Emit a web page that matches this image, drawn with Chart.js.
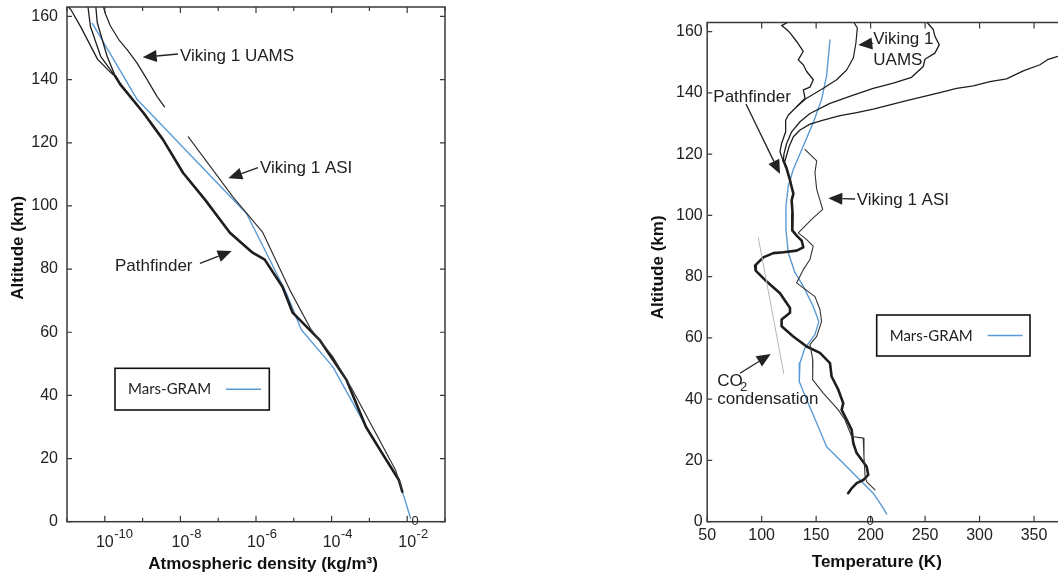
<!DOCTYPE html>
<html lang="en">
  <head>
    <meta charset="UTF-8" />
    <title>Mars atmosphere profiles</title>
    <script src="https://cdn.jsdelivr.net/npm/chart.js"></script>
    <style>
      html, body { margin: 0; padding: 0; background: #fff; overflow: hidden; }
      body { width: 1058px; height: 577px; position: relative; }
      .painel { position: absolute; top: 0; }
      #painelDensidade { left: 0; }
      #painelTemperatura { left: 640px; }
    </style>
  </head>
  <body>
    <div class="painel" id="painelDensidade"><canvas id="densidade" width="460" height="577"></canvas></div>
    <div class="painel" id="painelTemperatura"><canvas id="temperatura" width="440" height="577"></canvas></div>

<script>
  // ---------- left panel: density (kg/m3) vs altitude (km) ----------
  var uamsDens = [8.5e-11, 1.05e-10, 1.41e-10, 2.34e-10, 3.89e-10, 7.08e-10, 1.32e-9, 2.40e-9, 3.80e-9];
  var uamsAlt = [164.4, 160.7, 157.0, 152.7, 149.5, 145.3, 140.0, 134.7, 131.4];

  var asiDens = [1.62e-8, 3.31e-8, 2.45e-7, 1.51e-6, 7.76e-6, 2.88e-5, 1.07e-4, 3.55e-4, 1.48e-3, 4.90e-3, 7.24e-3];
  var asiAlt = [121.9, 116.9, 102.9, 91.6, 73.5, 60.8, 52.3, 41.8, 28.0, 16.4, 10.1];

  var pf1Dens = [1.0e-11, 1.26e-11, 2.29e-11, 6.46e-11, 1.41e-10, 1.91e-10];
  var pf1Alt = [163.5, 162.2, 156.8, 146.4, 142.3, 141.0];
  var pf2Dens = [3.55e-11, 4.17e-11, 7.76e-11, 1.58e-10, 1.91e-10];
  var pf2Alt = [163.5, 156.8, 147.4, 142.3, 141.0];
  var pf3Dens = [5.75e-11, 6.31e-11, 1.15e-10, 1.91e-10];
  var pf3Alt = [163.5, 158.1, 147.4, 141.0];

  var pfDens = [1.91e-10, 2.57e-10, 1.05e-9, 3.47e-9, 1.17e-8, 4.47e-8, 2.04e-7, 8.13e-7, 1.70e-6,
                5.01e-6, 9.33e-6, 4.79e-5, 2.45e-4, 8.13e-4, 2.14e-3, 6.03e-3, 7.41e-3];
  var pfAlt = [141.0, 138.5, 129.5, 121.0, 110.5, 102.0, 91.5, 85.2, 83.0,
               74.4, 66.2, 57.6, 45.0, 30.0, 21.8, 13.2, 9.5];

  var gramDens = [4.68e-11, 7.08e-10, 5.62e-7, 6.31e-6, 1.58e-5, 1.07e-4, 2.95e-4, 8.13e-4, 6.03e-3, 1.23e-2];
  var gramAlt = [157.8, 133.8, 97.6, 72.5, 60.8, 49.1, 39.6, 30.1, 13.1, 1.1];

  var decadas = [-11, -10, -9, -8, -7, -6, -5, -4, -3, -2, -1];
  var expoentesRotulo = [-10, -8, -6, -4, -2];

  // ---------- right panel: temperature (K) vs altitude (km) ----------
  var pfATemp = [124.5, 118.3, 122.9, 126.0, 132.1, 138.2, 133.6, 138.2, 141.3, 147.4, 144.3, 138.2, 139.8,
                 132.1, 124.5, 122.0, 122.0, 118.3, 116.8, 119.3, 119.9];
  var pfAAlt = [163.2, 162.0, 160.7, 159.6, 156.8, 153.6, 150.8, 149.2, 147.0, 144.3, 141.9, 141.0, 138.3,
                135.5, 132.8, 131.1, 127.3, 123.5, 120.8, 118.3, 118.0];

  var pfCTemp = [251.0, 252.9, 257.5, 259.0, 263.0, 259.0, 249.8, 248.3, 237.6, 220.8, 202.4, 184.1, 162.7,
                 144.3, 135.2, 127.5, 122.9, 120.5, 119.9];
  var pfCAlt = [163.3, 162.6, 160.7, 158.5, 155.7, 153.0, 151.0, 148.6, 145.1, 143.2, 141.5, 139.3, 136.6,
                133.3, 130.6, 127.3, 123.5, 120.2, 118.0];

  var pfDTemp = [385.0, 371.9, 363.0, 355.4, 340.1, 324.8, 309.5, 294.2, 278.9, 263.6, 248.3, 233.0, 217.7,
                 202.4, 187.2, 171.9, 156.6, 144.3, 135.2, 129.1, 125.1, 122.9, 121.4, 119.9];
  var pfDAlt = [153.5, 151.9, 151.0, 149.2, 147.2, 144.6, 143.7, 142.3, 141.5, 140.1, 138.8, 137.5, 136.1,
                134.7, 133.6, 132.6, 131.1, 129.8, 127.9, 125.7, 122.4, 119.7, 117.8, 118.0];

  var pfTemp = [119.9, 122.9, 126.0, 127.5, 129.1, 127.5, 128.4, 128.1, 132.1, 136.7, 138.2, 132.1, 119.9,
                110.7, 101.5, 93.9, 94.5, 104.6, 116.8, 126.0, 126.0, 118.3, 118.3, 129.0, 141.3, 153.5,
                162.7, 164.2, 170.3, 174.9, 173.4, 178.0, 182.6, 184.1, 187.2, 196.3, 197.8, 193.2, 187.2,
                182.6, 179.4];
  var pfTAlt = [118.0, 115.3, 111.5, 109.3, 107.1, 104.9, 100.5, 95.1, 93.4, 91.8, 89.6, 88.5, 88.0,
                87.7, 86.3, 83.6, 82.0, 78.4, 74.6, 69.8, 68.2, 66.0, 63.8, 60.5, 57.2, 55.1,
                51.8, 47.4, 43.1, 38.7, 36.5, 33.3, 30.0, 25.6, 22.4, 18.0, 15.3, 13.6, 12.6,
                10.9, 9.3];

  var uamsTemp = [183.5, 187.8, 186.5, 184.1, 178.0, 168.8, 156.6, 141.3, 132.1];
  var uamsTAlt = [163.7, 161.2, 156.3, 151.4, 147.5, 144.3, 141.5, 138.3, 135.5];

  var asiTemp = [139.7, 150.5, 148.9, 150.5, 156.0, 147.3, 133.6, 141.3, 147.3, 144.3, 138.2, 132.1, 148.9,
                 153.5, 155.0, 150.5, 144.3, 147.0, 146.8, 156.5, 170.3, 176.4, 182.6, 193.2, 193.9, 194.8,
                 196.3, 204.0];
  var asiTAlt = [121.6, 117.8, 114.0, 108.5, 102.0, 99.2, 94.3, 92.1, 90.0, 85.6, 82.3, 78.0, 73.5,
                 69.3, 65.4, 60.5, 57.8, 52.8, 46.4, 42.0, 36.5, 33.3, 27.8, 27.3, 21.3, 15.3,
                 13.1, 10.4];

  var gramTemp = [162.7, 159.6, 155.0, 147.3, 138.2, 129.0, 124.4, 122.3, 122.3, 124.4, 130.6, 138.2, 147.3,
                  152.5, 148.9, 139.7, 135.1, 134.5, 141.3, 150.5, 159.6, 174.9, 190.2, 202.4, 211.6, 214.7];
  var gramTAlt = [157.3, 145.6, 137.9, 130.3, 122.7, 115.0, 109.6, 103.0, 95.4, 87.8, 81.3, 76.9, 70.3,
                  65.4, 61.1, 56.7, 51.8, 45.8, 39.8, 32.2, 24.5, 19.1, 13.6, 9.3, 4.4, 2.5];

  var co2Temp = [96.9, 120.3];
  var co2Alt = [92.7, 48.3];

  var AZUL = '#5b9bd5';
  var PRETO = '#1e1e1e';
  var FONTE = '"Liberation Sans", Arial, sans-serif';

  Chart.defaults.font.family = FONTE;
  Chart.defaults.color = '#222';

  function serie(xs, ys, cor, largura) {
    return {
      data: xs.map(function (v, i) { return { x: v, y: ys[i] }; }),
      borderColor: cor,
      borderWidth: largura,
      pointRadius: 0,
      tension: 0,
      fill: false,
      borderJoinStyle: 'round',
      borderCapStyle: 'round'
    };
  }

  // keep only round ticks (no extra one at the max)
  function soPassos(passo) {
    return function (s) {
      s.ticks = s.ticks.filter(function (t) { return Math.abs(t.value % passo) < 1e-9; });
    };
  }

  function seta(ctx, s) {
    var x1 = s[0], y1 = s[1], x2 = s[2], y2 = s[3];
    var ang = Math.atan2(y2 - y1, x2 - x1);
    var L = 14, W = 6;
    var bx = x2 - L * Math.cos(ang), by = y2 - L * Math.sin(ang);
    ctx.lineWidth = 1.3;
    ctx.beginPath();
    ctx.moveTo(x1, y1);
    ctx.lineTo(bx, by);
    ctx.stroke();
    ctx.beginPath();
    ctx.moveTo(x2, y2);
    ctx.lineTo(bx + W * Math.sin(ang), by - W * Math.cos(ang));
    ctx.lineTo(bx - W * Math.sin(ang), by + W * Math.cos(ang));
    ctx.closePath();
    ctx.fill();
  }

  // frame, inward ticks, log labels, notes and the legend box
  var moldura = {
    id: 'moldura',
    afterDraw: function (chart, args, o) {
      var ctx = chart.ctx, a = chart.chartArea;
      var sx = chart.scales.x, sy = chart.scales.y;
      ctx.save();
      ctx.strokeStyle = '#3a3a3a';
      ctx.lineWidth = 1.5;
      ctx.strokeRect(a.left, a.top, a.right - a.left, a.bottom - a.top);

      ctx.lineWidth = 1.2;
      ctx.beginPath();
      sy.ticks.forEach(function (t) {
        var p = sy.getPixelForValue(t.value);
        ctx.moveTo(a.left, p); ctx.lineTo(a.left + 5, p);
        ctx.moveTo(a.right, p); ctx.lineTo(a.right - 5, p);
      });
      if (o.decadas) {
        o.decadas.forEach(function (k) {
          var p = sx.getPixelForValue(Math.pow(10, k));
          var len = k % 2 === 0 ? 6 : 4;
          ctx.moveTo(p, a.bottom); ctx.lineTo(p, a.bottom - len);
          ctx.moveTo(p, a.top); ctx.lineTo(p, a.top + len);
        });
      } else {
        sx.ticks.forEach(function (t) {
          var p = sx.getPixelForValue(t.value);
          ctx.moveTo(p, a.bottom); ctx.lineTo(p, a.bottom - 6);
          ctx.moveTo(p, a.top); ctx.lineTo(p, a.top + 6);
        });
      }
      ctx.stroke();

      ctx.fillStyle = '#222';
      ctx.strokeStyle = '#222';
      if (o.expoentes) {
        o.expoentes.forEach(function (k) {
          var p = sx.getPixelForValue(Math.pow(10, k));
          ctx.font = '16px ' + FONTE;
          ctx.textAlign = 'center';
          ctx.textBaseline = 'alphabetic';
          ctx.fillText('10', p, a.bottom + 25.3);
          var w = ctx.measureText('10').width;
          ctx.font = '13px ' + FONTE;
          ctx.textAlign = 'left';
          ctx.fillText('-' + Math.abs(k), p + w / 2 + 0.5, a.bottom + 15.8);
        });
      }

      ctx.textAlign = 'left';
      ctx.textBaseline = 'alphabetic';
      (o.textos || []).forEach(function (t) {
        ctx.font = (t.size || 17) + 'px ' + FONTE;
        ctx.textAlign = t.align || 'left';
        ctx.fillText(t.t, t.x, t.y);
      });
      (o.setas || []).forEach(function (s) { seta(ctx, s); });

      if (o.legenda) {
        var L = o.legenda;
        ctx.fillStyle = '#fff';
        ctx.fillRect(L.x, L.y, L.w, L.h);
        ctx.strokeStyle = '#111';
        ctx.lineWidth = 1.6;
        ctx.strokeRect(L.x, L.y, L.w, L.h);
        ctx.fillStyle = '#222';
        ctx.font = '15px Lato, "Open Sans", sans-serif';
        ctx.textAlign = 'left';
        ctx.textBaseline = 'middle';
        ctx.fillText('Mars-GRAM', L.x + 13, L.y + L.h / 2 + 0.5);
        ctx.strokeStyle = AZUL;
        ctx.lineWidth = 1.5;
        ctx.beginPath();
        ctx.moveTo(L.x + 111, L.y + L.h / 2);
        ctx.lineTo(L.x + 146, L.y + L.h / 2);
        ctx.stroke();
      }
      ctx.restore();
    }
  };

  function eixoY(largura, pad, titulo) {
    return {
      type: 'linear', min: 0, max: 163, bounds: 'data',
      grid: { display: false, drawTicks: false },
      border: { display: false },
      ticks: { stepSize: 20, includeBounds: false, padding: pad, font: { size: 16 }, color: '#222' },
      afterBuildTicks: soPassos(20),
      title: { display: true, text: titulo, font: { size: 17, weight: 'bold' }, color: '#111', padding: { top: 8, bottom: 0 } },
      afterFit: function (s) {
        s.width = largura;
        // the plot frame is placed by the layout padding alone
        s.paddingTop = 0;
        s.paddingBottom = 0;
      }
    };
  }

  // ---------- left chart ----------
  new Chart(document.getElementById('densidade'), {
    type: 'line',
    data: {
      datasets: [
        serie(uamsDens, uamsAlt, PRETO, 1.2),
        serie(asiDens, asiAlt, '#333', 1.2),
        serie(pf1Dens, pf1Alt, PRETO, 1.3),
        serie(pf2Dens, pf2Alt, PRETO, 1.3),
        serie(pf3Dens, pf3Alt, PRETO, 1.3),
        serie(pfDens, pfAlt, PRETO, 2.6),
        serie(gramDens, gramAlt, AZUL, 1.4)
      ]
    },
    options: {
      responsive: false, animation: false, events: [],
      layout: { padding: { top: 7, right: 15, left: 0, bottom: 0 } },
      plugins: {
        legend: { display: false }, tooltip: { enabled: false },
        moldura: {
          decadas: decadas,
          expoentes: expoentesRotulo,
          textos: [
            { t: 'Viking 1 UAMS', x: 180, y: 61 },
            { t: 'Viking 1 ASI', x: 260, y: 172.5 },
            { t: 'Pathfinder', x: 115, y: 270.5 },
            { t: '0', x: 415, y: 525, size: 13, align: 'center' }
          ],
          setas: [[178, 54, 142.7, 57.3], [258, 167.7, 228.3, 178.3], [200, 263.3, 231.7, 251]],
          legenda: { x: 115, y: 368.3, w: 154.3, h: 41.7 }
        }
      },
      scales: {
        x: {
          type: 'logarithmic', min: 1e-11, max: 1e-1, bounds: 'data',
          grid: { display: false, drawTicks: false },
          border: { display: false },
          ticks: { display: false },
          title: { display: true, text: '   Atmospheric density (kg/m³)', font: { size: 17, weight: 'bold' }, color: '#111', padding: { top: 0, bottom: 2 } },
          afterFit: function (s) { s.height = 55.3; }
        },
        y: eixoY(67, 9, '       Altitude (km)')
      }
    },
    plugins: [moldura]
  });

  // ---------- right chart ----------
  new Chart(document.getElementById('temperatura'), {
    type: 'line',
    data: {
      datasets: [
        serie(co2Temp, co2Alt, '#b5b5b5', 1),
        serie(uamsTemp, uamsTAlt, PRETO, 1.2),
        serie(asiTemp, asiTAlt, '#333', 1.1),
        serie(pfATemp, pfAAlt, PRETO, 1.3),
        serie(pfCTemp, pfCAlt, PRETO, 1.3),
        serie(pfDTemp, pfDAlt, PRETO, 1.3),
        serie(pfTemp, pfTAlt, PRETO, 2.6),
        serie(gramTemp, gramTAlt, AZUL, 1.4)
      ]
    },
    options: {
      responsive: false, animation: false, events: [],
      layout: { padding: { top: 22.5, right: 10, left: 0, bottom: 0 } },
      plugins: {
        legend: { display: false }, tooltip: { enabled: false },
        moldura: {
          textos: [
            { t: 'Viking 1', x: 233.3, y: 44 },
            { t: 'UAMS', x: 233.3, y: 65 },
            { t: 'Pathfinder', x: 73.3, y: 101.5 },
            { t: 'Viking 1 ASI', x: 216.7, y: 205 },
            { t: 'CO', x: 77.3, y: 386 },
            { t: '2', x: 100, y: 390.5, size: 13 },
            { t: 'condensation', x: 77.3, y: 404 },
            { t: '0', x: 230, y: 525, size: 13, align: 'center' }
          ],
          setas: [[233.3, 43.3, 218.3, 45], [106, 104, 140, 174], [215, 199, 188.3, 198.3], [100, 373.3, 130.7, 354]],
          legenda: { x: 236.7, y: 315, w: 153.3, h: 41 }
        }
      },
      scales: {
        x: {
          type: 'linear', min: 50, max: 383, bounds: 'data',
          grid: { display: false, drawTicks: false },
          border: { display: false },
          ticks: { stepSize: 50, includeBounds: false, padding: 4, font: { size: 16 }, color: '#222' },
          afterBuildTicks: soPassos(50),
          title: { display: true, text: 'Temperature (K)     ', font: { size: 17, weight: 'bold' }, color: '#111', padding: { top: 0, bottom: 4 } },
          afterFit: function (s) { s.height = 55.3; }
        },
        y: eixoY(67.2, 4.5, '  Altitude (km)')
      }
    },
    plugins: [moldura]
  });
</script>
  </body>
</html>
